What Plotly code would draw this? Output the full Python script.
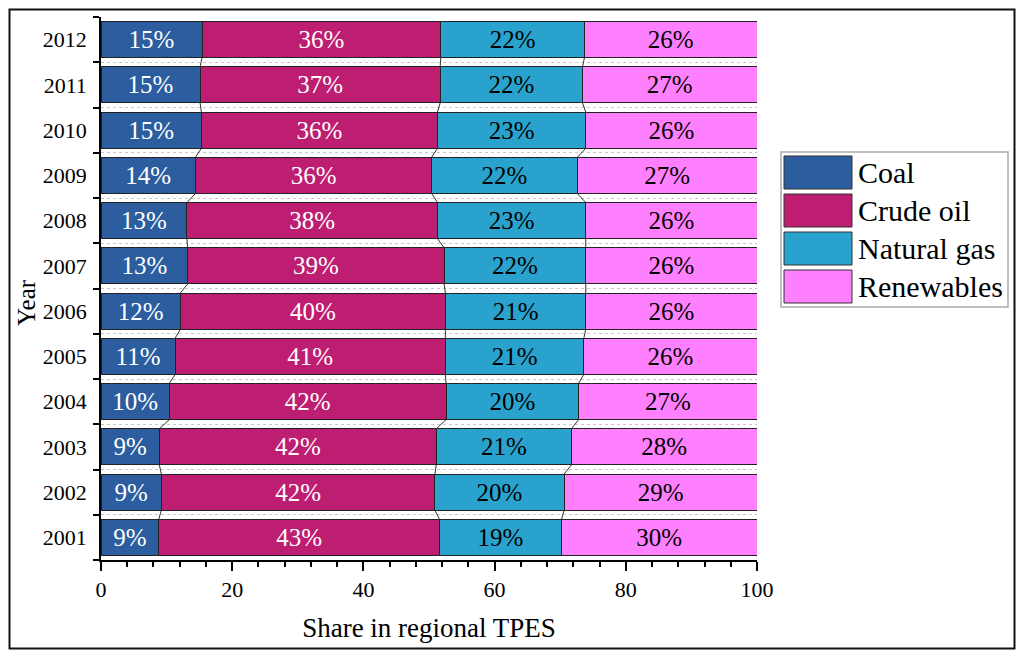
import plotly.graph_objects as go

# Share in regional TPES (%), 2001 -> 2012
years = ["2001", "2002", "2003", "2004", "2005", "2006", "2007", "2008", "2009", "2010", "2011", "2012"]
coal = [8.8, 9.2, 8.9, 10.4, 11.3, 12.1, 13.2, 13.1, 14.4, 15.3, 15.1, 15.4]
crude_oil = [42.8, 41.7, 42.2, 42.2, 41.2, 40.4, 39.1, 38.2, 36.0, 36.0, 36.6, 36.4]
natural_gas = [18.6, 19.7, 20.6, 20.2, 21.1, 21.4, 21.6, 22.6, 22.2, 22.6, 21.7, 21.9]
renewables = [29.8, 29.4, 28.3, 27.2, 26.4, 26.1, 26.1, 26.1, 27.4, 26.1, 26.6, 26.3]

series_names = ["Coal", "Crude oil", "Natural gas", "Renewables"]
series_values = [coal, crude_oil, natural_gas, renewables]
series_colors = ["#2B5D9F", "#BE1E71", "#29A3CE", "#FF80FF"]
text_colors = ["white", "white", "black", "black"]

FONT = "Liberation Serif"
# page body has an 8px margin, so the figure is a bit smaller than the window
W, H = 1008, 642
ML, MR, MT, MB = 93, 259, 9, 90
PLOT_L, PLOT_B = 101, 560  # plot area edges on screen
PLOT_W, PLOT_H = W - ML - MR, H - MT - MB
BAR_W = 0.8


# screen pixel -> paper coordinates (for the frame and hand-drawn legend)
def px_x(p):
    return (p - PLOT_L) / PLOT_W


def px_y(p):
    return (PLOT_B - p) / PLOT_H


ypos = list(range(len(years)))

fig = go.Figure()

for name, vals, col, tcol in zip(series_names, series_values, series_colors, text_colors):
    fig.add_trace(go.Bar(
        y=ypos, x=vals, name=name, orientation="h", width=BAR_W,
        marker=dict(color=col, line=dict(color="#222222", width=1)),
        texttemplate="%{x:.0f}%", textposition="inside", insidetextanchor="middle",
        textangle=0, constraintext="none",
        textfont=dict(family=FONT, size=25, color=tcol),
        showlegend=False,
    ))

# connector lines between segment boundaries of neighbouring bars
cum = []
running = [0.0] * len(years)
for vals in series_values[:-1]:
    running = [r + v for r, v in zip(running, vals)]
    cum.append(running)

lx, ly = [], []
for c in cum:
    for i in range(len(years) - 1):
        lx += [c[i], c[i + 1], None]
        ly += [i + BAR_W / 2, i + 1 - BAR_W / 2, None]
fig.add_trace(go.Scatter(x=lx, y=ly, mode="lines", line=dict(color="#333333", width=1),
                         showlegend=False, hoverinfo="skip"))

shapes = []
annotations = []

# outer frame
shapes.append(dict(type="rect", xref="paper", yref="paper",
                   x0=px_x(9.5), x1=px_x(1014.5), y0=px_y(648.5), y1=px_y(9.5),
                   line=dict(color="#111111", width=2), layer="below"))

# legend box
shapes.append(dict(type="rect", xref="paper", yref="paper",
                   x0=px_x(781), x1=px_x(1008), y0=px_y(307), y1=px_y(152),
                   line=dict(color="#AAAAAA", width=1.5), fillcolor="white"))
for k, (name, col) in enumerate(zip(series_names, series_colors)):
    top = 156 + 38 * k
    shapes.append(dict(type="rect", xref="paper", yref="paper",
                       x0=px_x(784), x1=px_x(852), y0=px_y(top + 33), y1=px_y(top),
                       line=dict(color="#333333", width=1), fillcolor=col))
    annotations.append(dict(xref="paper", yref="paper", x=px_x(856), y=px_y(top + 16.5),
                            text=name, showarrow=False, xanchor="left", yanchor="middle",
                            font=dict(family=FONT, size=30, color="black")))

# y axis title
annotations.append(dict(xref="paper", yref="paper", x=px_x(26), y=px_y(303),
                        text="Year", textangle=-90, showarrow=False,
                        xanchor="center", yanchor="middle",
                        font=dict(family=FONT, size=25, color="black")))

fig.update_layout(
    barmode="stack",
    width=W, height=H,
    margin=dict(l=ML, r=MR, t=MT, b=MB),
    paper_bgcolor="white", plot_bgcolor="white",
    font=dict(family=FONT, color="black"),
    shapes=shapes,
    annotations=annotations,
)

fig.update_xaxes(
    range=[0, 100], tickvals=[0, 20, 40, 60, 80, 100],
    ticks="outside", ticklen=9, tickwidth=1.5, tickcolor="black",
    minor=dict(dtick=4, tick0=0, ticks="outside", ticklen=5, tickwidth=1.5, tickcolor="black"),
    showline=True, linecolor="black", linewidth=1.5, showgrid=False, zeroline=False,
    tickfont=dict(family=FONT, size=22),
    title=dict(text="Share in regional TPES", font=dict(family=FONT, size=27), standoff=17),
)

fig.update_yaxes(
    range=[-0.5, len(years) - 0.5], tickvals=ypos, ticktext=years,
    ticks="", ticklabelstandoff=8,
    minor=dict(tick0=0.5, dtick=1, ticks="outside", ticklen=6, tickwidth=1.5, tickcolor="black",
               showgrid=True, gridcolor="#C8C8C8", griddash="dot", gridwidth=1),
    showline=True, linecolor="black", linewidth=1.5, showgrid=False, zeroline=False,
    tickfont=dict(family=FONT, size=22),
)

fig.write_html("out.html")
